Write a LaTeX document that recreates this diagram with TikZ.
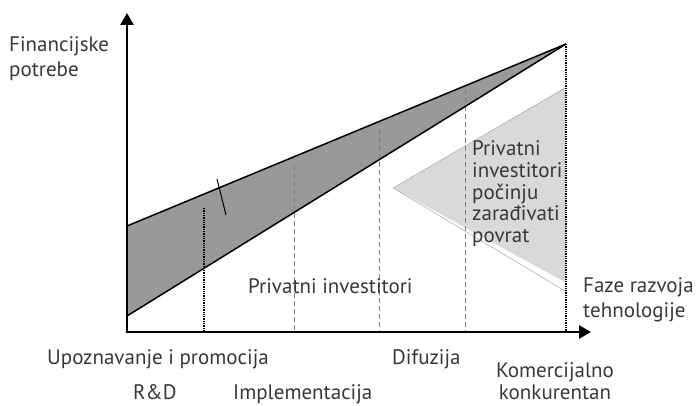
\documentclass[tikz,border=0pt]{standalone}
\usepackage{fontspec}
\setmainfont{PT Sans}
\usetikzlibrary{arrows.meta}
\definecolor{txt}{HTML}{383838}
\definecolor{band}{HTML}{999999}
\definecolor{tri}{HTML}{D9D9D9}
\tikzset{
  lbl/.style={text=txt, font=\fontsize{21}{24}\selectfont, inner sep=0pt, anchor=base west},
  lblc/.style={lbl, anchor=base},
  axis/.style={line width=2.6pt, -{Triangle[length=12pt,width=13pt]}},
  edge/.style={line width=1.5pt},
  guide/.style={gray, line width=0.6pt, dash pattern=on 5pt off 3pt},
  dotline/.style={black, line width=1.3pt, densely dotted},
}
\begin{document}
\begin{tikzpicture}[x=1pt,y=-1pt]
\useasboundingbox (0,0) rectangle (698,406);
% key points
\coordinate (O) at (127,332);
\coordinate (Ytop) at (127,13);
\coordinate (Xend) at (591,332);
\coordinate (U0) at (127,226);
\coordinate (L0) at (127,316);
\coordinate (P) at (566,44);
% band
\fill[band] (U0) -- (P) -- (L0) -- cycle;
% triangle
\coordinate (T1) at (393,188);
\coordinate (T2) at (565,88);
\coordinate (T3) at (565,291);
\coordinate (T3f) at (565,282);
\fill[tri] (T1) -- (T2) -- (T3f) -- cycle;
\draw[gray!70, line width=0.5pt] (T1) -- (T2) -- (T3) -- cycle;
% guides
\coordinate (g2t) at (294,165); \coordinate (g2b) at (294,332);
\coordinate (g3t) at (379,130); \coordinate (g3b) at (379,332);
\coordinate (g4t) at (465,90);  \coordinate (g4b) at (465,332);
\draw[guide] (g2t) -- (g2b);
\draw[guide] (g3t) -- (g3b);
\draw[guide] (g4t) -- (g4b);
\coordinate (m1t) at (204,208); \coordinate (m1b) at (204,332);
\coordinate (m2b) at (566,332);
\draw[dotline] (m1t) -- (m1b);
\draw[dotline] (P) -- (m2b);
% edges
\draw[edge] (U0) -- (P);
\draw[edge] (L0) -- (P);
\coordinate (k1) at (217,179); \coordinate (k2) at (226,215);
\draw[line width=1pt] (k1) -- (k2);
% axes
\draw[axis] (O) -- (Ytop);
\draw[axis] ([xshift=-1.3pt]O) -- (Xend);
% labels
\node[lbl] (fin1) at (9,52) {Financijske};
\node[lbl] (fin2) at (9,77) {potrebe};
\node[lbl] (pi) at (248,293) {Privatni investitori};
\node[lbl] (pc1) at (472,156) {Privatni};
\node[lbl] (pc2) at (472,177.5) {investitori};
\node[lbl] (pc3) at (472,199) {počinju};
\node[lbl] (pc4) at (472,220.5) {zarađivati};
\node[lbl] (pc5) at (472,242) {povrat};
\node[lbl] (faze1) at (583,292) {Faze razvoja};
\node[lbl] (faze2) at (583,317) {tehnologije};
\node[lbl] (upo) at (47,364) {Upoznavanje i promocija};
\node[lbl] (dif) at (392,364) {Difuzija};
\node[lblc] (kom1) at (555,377) {Komercijalno};
\node[lblc] (kom2) at (555,399) {konkurentan};
\node[lbl] (rd) at (133,399) {R\&D};
\node[lbl] (imp) at (233,399) {Implementacija};
\end{tikzpicture}
\end{document}
